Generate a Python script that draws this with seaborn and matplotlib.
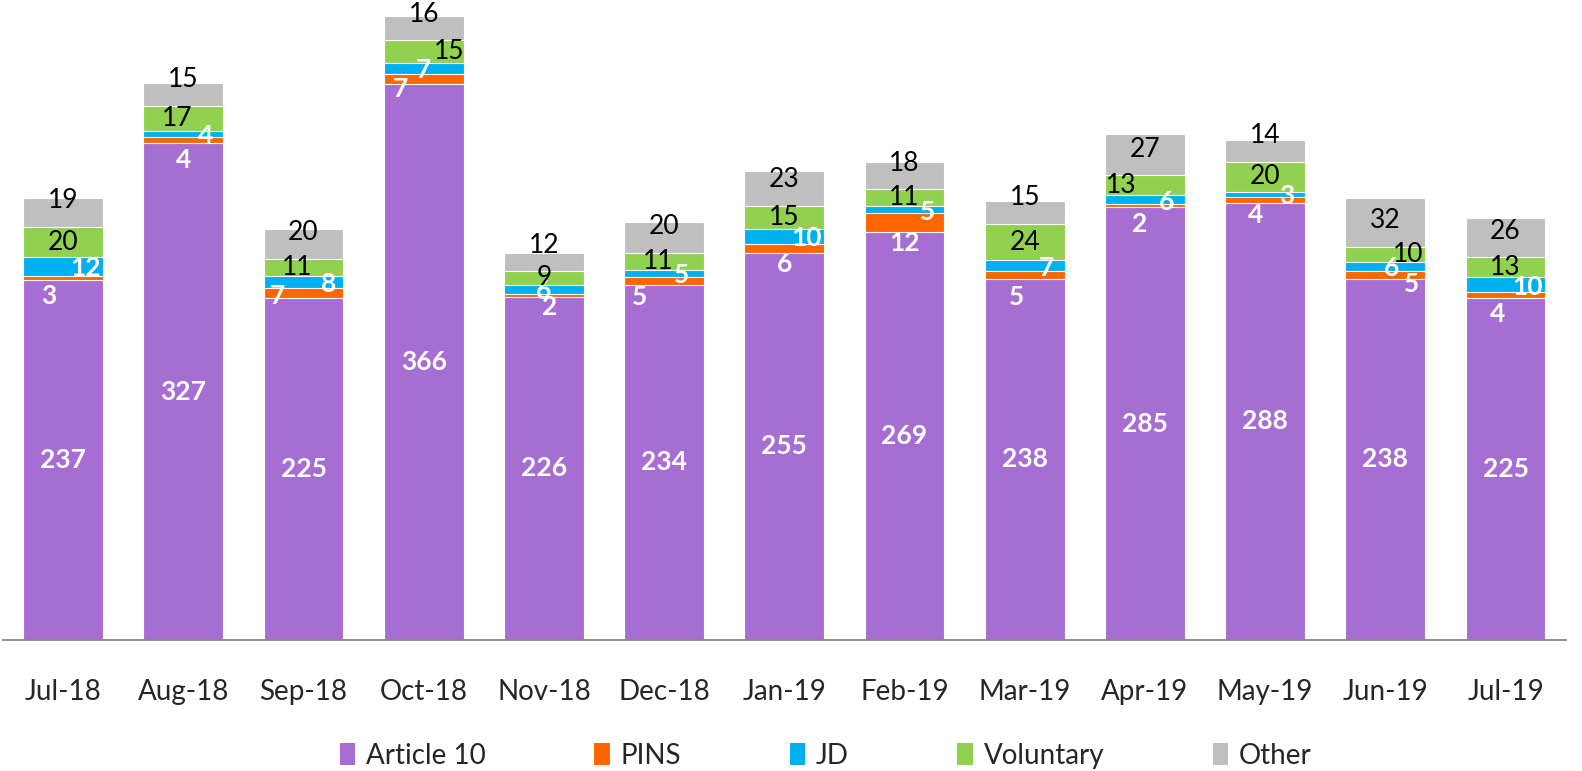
import matplotlib.pyplot as plt
import seaborn as sns
import pandas as pd
import numpy as np
from matplotlib.patches import Patch

# ---- data ----
months = ["Jul-18", "Aug-18", "Sep-18", "Oct-18", "Nov-18", "Dec-18", "Jan-19",
          "Feb-19", "Mar-19", "Apr-19", "May-19", "Jun-19", "Jul-19"]
article10 = [237, 327, 225, 366, 226, 234, 255, 269, 238, 285, 288, 238, 225]
pins = [3, 4, 7, 7, 2, 5, 6, 12, 5, 2, 4, 5, 4]
jd = [12, 4, 8, 7, 6, 5, 10, 5, 7, 6, 3, 6, 10]
voluntary = [20, 17, 11, 15, 9, 11, 15, 11, 24, 13, 20, 10, 13]
other = [19, 15, 20, 16, 12, 20, 23, 18, 15, 27, 14, 32, 26]

series = ["Article 10", "PINS", "JD", "Voluntary", "Other"]
colors = ["#A66ED2", "#FF6600", "#00B0F0", "#92D050", "#BFBFBF"]

# label nudges (pixels) used in the original, where small segments overlap
pins_dx = [-14, 0, -26, -23, 6, -25, 0, 0, -8, -5, -10, 26, -8]
pins_dy = [-18, -20, -3, -10, -12, -16, -16, -21, -22, -18, -15, -9, -19]
jd_dx = [22, 22, 25, 0, 0, 17, 22, 23, 22, 22, 22, 6, 22]
vol_dx = [0, -6, -6, 25, 0, -6, 0, 0, 0, -24, 0, 23, 0]

df = pd.DataFrame({"month": months, "Article 10": article10, "PINS": pins,
                   "JD": jd, "Voluntary": voluntary, "Other": other})

sns.set_style("white")
plt.rcParams['font.family'] = ['Lato', 'DejaVu Sans']

fig = plt.figure(figsize=(15.82, 7.71), dpi=100)
ax = fig.add_axes([3 / 1582, 131 / 771, 1562.6 / 1582, 640 / 771])

cum = df[series].cumsum(axis=1)
bottoms = cum - df[series]

# stacked bars: draw cumulative totals from the top layer down
for name, col in reversed(list(zip(series, colors))):
    sns.barplot(x=df["month"], y=cum[name], color=col, saturation=1, width=0.665,
                edgecolor="white", linewidth=0.8, ax=ax, order=months)

ax.set_ylim(0, 421.5)
ax.set_xlim(-0.5, 12.5)

def put(x, y, txt, dx=0, dy=0, white=False):
    ax.annotate(txt, (x, y), xytext=(dx, dy), textcoords="offset pixels",
                ha="center", va="center", fontsize=19,
                color="white" if white else "black",
                fontweight="bold" if white else "normal")

for i in range(len(months)):
    put(i, bottoms["Article 10"][i] + article10[i] / 2, str(article10[i]), white=True)
    put(i, bottoms["PINS"][i] + pins[i] / 2, str(pins[i]), pins_dx[i], pins_dy[i], white=True)
    put(i, bottoms["JD"][i] + jd[i] / 2, str(jd[i]), jd_dx[i], -2, white=True)
    put(i, bottoms["Voluntary"][i] + voluntary[i] / 2, str(voluntary[i]), vol_dx[i], 0)
    put(i, bottoms["Other"][i], str(other[i]), 0, 26)

# axis styling (category-boundary ticks like the original)
sns.despine(ax=ax, left=True)
ax.spines["bottom"].set_color("#868686")
ax.spines["bottom"].set_linewidth(1.3)
ax.set_yticks([])
ax.set_ylabel("")
ax.set_xlabel("")
ax.set_xticks(np.arange(-0.5, 13, 1))
ax.set_xticklabels([])
ax.set_xticks(np.arange(13), minor=True)
ax.set_xticklabels(months, minor=True, fontsize=20)
ax.tick_params(axis="x", which="major", length=8, width=1.3, color="#868686", direction="out")
ax.tick_params(axis="x", which="minor", length=0, pad=28)

handles = [Patch(facecolor=c, edgecolor="none") for c in colors]
fig.legend(handles, series, loc="center", bbox_to_anchor=(0.522, 1 - 756 / 771),
           ncol=5, frameon=False, fontsize=20, handlelength=0.55, handleheight=0.85,
           handletextpad=0.4, columnspacing=3.9)

fig.savefig("out.png", dpi=100)
